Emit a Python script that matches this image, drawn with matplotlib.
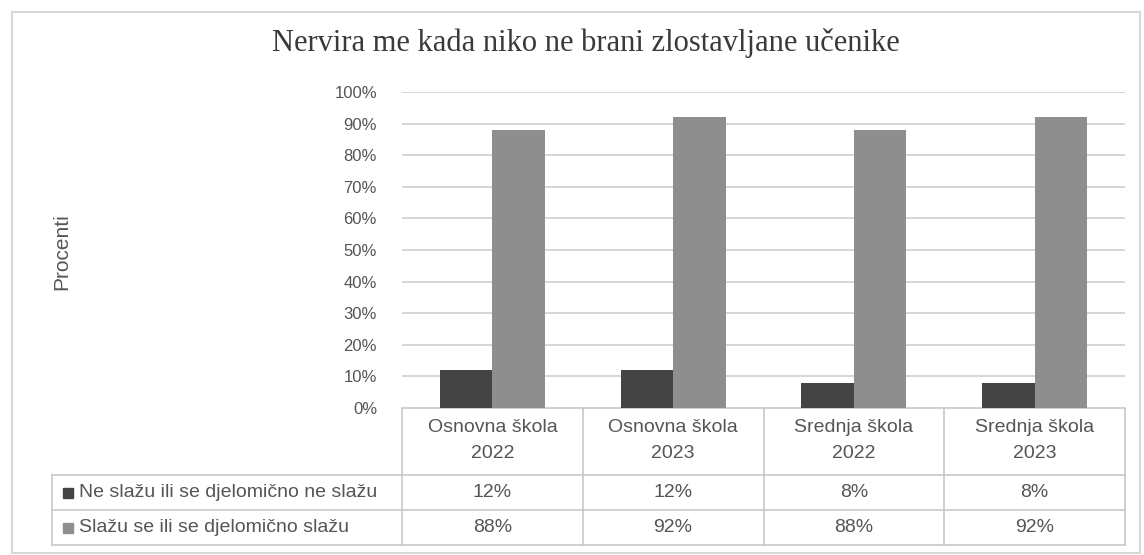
import numpy as np
import matplotlib.pyplot as plt
from matplotlib.patches import Rectangle

# data
categories = ["Osnovna škola\n2022", "Osnovna škola\n2023", "Srednja škola\n2022", "Srednja škola\n2023"]
series_names = ["Ne slažu ili se djelomično ne slažu", "Slažu se ili se djelomično slažu"]
ne_slazu = [12, 12, 8, 8]
slazu = [88, 92, 88, 92]
yticks = [0, 10, 20, 30, 40, 50, 60, 70, 80, 90, 100]

title = "Nervira me kada niko ne brani zlostavljane učenike"
ylabel = "Procenti"

DARK = "#444444"
GRAY = "#8e8e8e"
GRID = "#d3d3d3"
LINE = "#c4c4c4"
TXT = "#555555"
SANS = "Liberation Sans"

W, H = 1144, 555
fig = plt.figure(figsize=(W/100, H/100), dpi=100)
fig.patch.set_facecolor("white")

# pixel-space overlay for frame, title and data table
ov = fig.add_axes([0, 0, 1, 1], zorder=0)
ov.set_xlim(0, W)
ov.set_ylim(H, 0)
ov.axis("off")

# plot area
left, right, top, bottom = 402, 1125, 92, 408
ax = fig.add_axes([left/W, 1-bottom/H, (right-left)/W, (bottom-top)/H], zorder=1)
ax.patch.set_alpha(0)

x = np.arange(len(categories))
bw = 0.29
ax.bar(x - bw/2, ne_slazu, bw, color=DARK, zorder=3)
ax.bar(x + bw/2, slazu, bw, color=GRAY, zorder=3)
ax.set_xlim(-0.5, len(categories)-0.5)
ax.set_ylim(0, 100)
ax.set_yticks(yticks)
ax.set_yticklabels(["%d%%" % v for v in yticks], fontsize=12, color=TXT, family=SANS)
ax.tick_params(axis="y", length=0, pad=18)
ax.set_xticks([])
ax.yaxis.grid(True, color=GRID, lw=1.3)
for s in ax.spines.values():
    s.set_visible(False)

# frame round the chart
ov.add_patch(Rectangle((12, 12), W-4-12, 553-12, fill=False, ec="#cfcfcf", lw=1.2))

ov.text(586, 43, title, ha="center", va="center", fontsize=22,
        family="Liberation Serif", color="#3a3a3a")
ov.text(62, 252, ylabel, rotation=90, ha="center", va="center", fontsize=15,
        color=TXT, family=SANS)

# data table below the axis
cw = (right-left)/len(categories)
col_edges = [left + cw*i for i in range(len(categories)+1)]
hdr_top, hdr_bot, r1_bot, r2_bot = 408, 475, 510, 545
lab_left = 52
lc = dict(color=LINE, lw=1.1)
ov.plot([left, right], [hdr_top, hdr_top], **lc)
for yy in (hdr_bot, r1_bot, r2_bot):
    ov.plot([lab_left, right], [yy, yy], **lc)
for xx in col_edges:
    ov.plot([xx, xx], [hdr_top, r2_bot], **lc)
ov.plot([lab_left, lab_left], [hdr_bot, r2_bot], **lc)

tf = dict(fontsize=14, color=TXT, family=SANS, ha="center", va="center")
for i, cat in enumerate(categories):
    cx = col_edges[i] + cw/2
    line1, line2 = cat.split("\n")
    ov.text(cx, 428, line1, **tf)
    ov.text(cx, 454, line2, **tf)
    ov.text(cx, (hdr_bot+r1_bot)/2, "%d%%" % ne_slazu[i], **tf)
    ov.text(cx, (r1_bot+r2_bot)/2, "%d%%" % slazu[i], **tf)

for yy, name, col in [((hdr_bot+r1_bot)/2, series_names[0], DARK),
                      ((r1_bot+r2_bot)/2, series_names[1], GRAY)]:
    ov.add_patch(Rectangle((63, yy-5), 10, 10, color=col))
    ov.text(79, yy, name, fontsize=14, color=TXT, family=SANS,
            ha="left", va="center")

fig.savefig("out.png", dpi=100, facecolor="white")
